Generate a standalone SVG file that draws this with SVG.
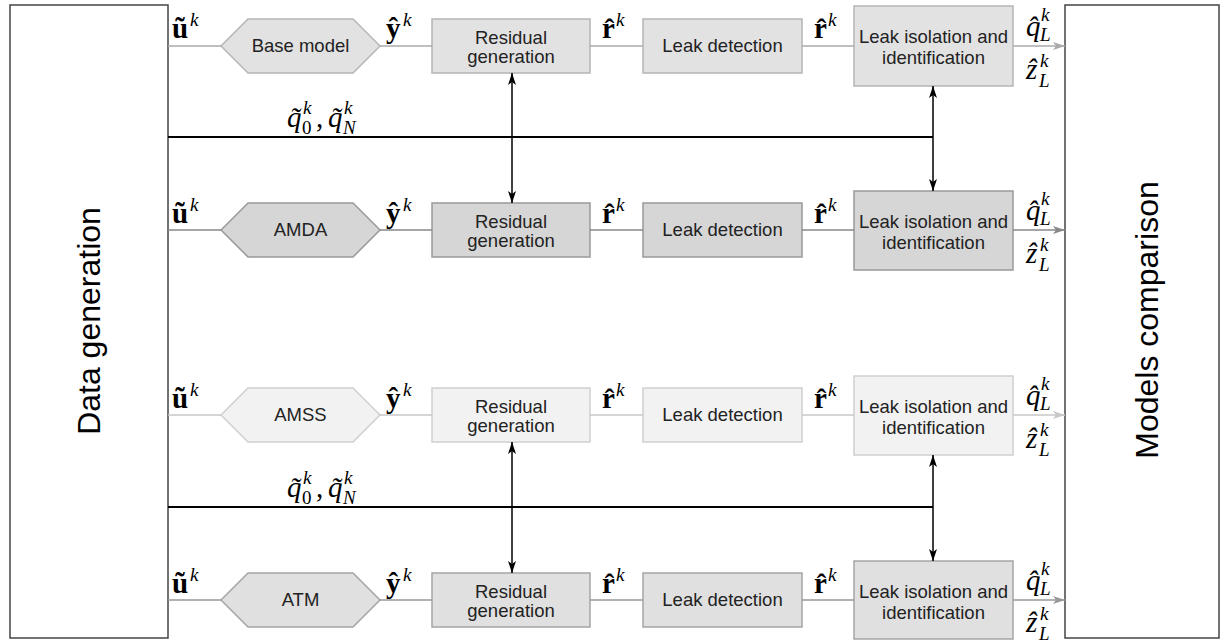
<svg xmlns="http://www.w3.org/2000/svg" width="1224" height="642" viewBox="0 0 1224 642">
<style>
.side{fill:#fff;stroke:#444;stroke-width:1.5}
.big{font-family:"Liberation Sans",Arial,sans-serif;font-size:32px;fill:#000;text-anchor:middle}
.lbl{font-family:"Liberation Sans",Arial,sans-serif;font-size:18.5px;fill:#222;text-anchor:middle}
.m{font-family:"Liberation Serif","Times New Roman",serif;font-size:29px;fill:#000}
.mb{font-weight:bold}
.mi{font-style:italic}
.s{font-family:"Liberation Serif","Times New Roman",serif;font-size:19px;fill:#000}
.c1{fill:#e2e2e2;stroke:#b5b5b5;stroke-width:1.5}
.c2{fill:#d6d6d6;stroke:#999;stroke-width:1.5}
.c3{fill:#f2f2f2;stroke:#cfcfcf;stroke-width:1.5}
.c4{fill:#e0e0e0;stroke:#a5a5a5;stroke-width:1.5}
.a1{stroke:#aaa;stroke-width:1.6;fill:none;marker-end:url(#h1)}
.a2{stroke:#888;stroke-width:1.6;fill:none;marker-end:url(#h2)}
.a3{stroke:#c8c8c8;stroke-width:1.6;fill:none;marker-end:url(#h3)}
.a4{stroke:#999;stroke-width:1.6;fill:none;marker-end:url(#h4)}
.bus{stroke:#000;stroke-width:2;fill:none}
.bi{stroke:#000;stroke-width:1.5;fill:none;marker-start:url(#hb);marker-end:url(#hb)}
</style>
<defs>
<marker id="h1" viewBox="0 0 12 8" refX="12" refY="4" markerWidth="12" markerHeight="8" markerUnits="userSpaceOnUse" orient="auto-start-reverse"><path d="M0,0 L12,4 L0,8 L3,4 z" fill="#aaa"/></marker>
<marker id="h2" viewBox="0 0 12 8" refX="12" refY="4" markerWidth="12" markerHeight="8" markerUnits="userSpaceOnUse" orient="auto-start-reverse"><path d="M0,0 L12,4 L0,8 L3,4 z" fill="#888"/></marker>
<marker id="h3" viewBox="0 0 12 8" refX="12" refY="4" markerWidth="12" markerHeight="8" markerUnits="userSpaceOnUse" orient="auto-start-reverse"><path d="M0,0 L12,4 L0,8 L3,4 z" fill="#c8c8c8"/></marker>
<marker id="h4" viewBox="0 0 12 8" refX="12" refY="4" markerWidth="12" markerHeight="8" markerUnits="userSpaceOnUse" orient="auto-start-reverse"><path d="M0,0 L12,4 L0,8 L3,4 z" fill="#999"/></marker>
<marker id="hb" viewBox="0 0 12 8" refX="12" refY="4" markerWidth="12" markerHeight="8" markerUnits="userSpaceOnUse" orient="auto-start-reverse"><path d="M0,0 L12,4 L0,8 L3,4 z" fill="#000"/></marker>
</defs>

<g id="data-generation">
<rect class="side" x="10" y="5" width="158" height="633"/>
<text class="big" transform="translate(100,321) rotate(-90)">Data generation</text>
</g>
<g id="models-comparison">
<rect class="side" x="1065" y="5" width="154" height="633"/>
<text class="big" transform="translate(1158,320) rotate(-90)">Models comparison</text>
</g>

<!-- Row 1 -->
<g id="base-model"><polygon class="c1" points="221,46 248,19 353,19 380,46 353,73 248,73"/><text class="lbl" x="300.5" y="52">Base model</text></g>
<g id="res1"><rect class="c1" x="432" y="19" width="158" height="54"/><text class="lbl" x="511" y="44">Residual</text><text class="lbl" x="511" y="63">generation</text></g>
<g id="det1"><rect class="c1" x="643" y="19" width="159" height="54"/><text class="lbl" x="722.5" y="52">Leak detection</text></g>
<g id="iso1"><rect class="c1" x="854" y="6" width="159" height="80"/><text class="lbl" x="933.5" y="43">Leak isolation and</text><text class="lbl" x="933.5" y="64">identification</text></g>

<!-- Row 2 -->
<g id="amda"><polygon class="c2" points="221,230 248,203 353,203 380,230 353,257 248,257"/><text class="lbl" x="300.5" y="236">AMDA</text></g>
<g id="res2"><rect class="c2" x="432" y="203" width="158" height="54"/><text class="lbl" x="511" y="228">Residual</text><text class="lbl" x="511" y="247">generation</text></g>
<g id="det2"><rect class="c2" x="643" y="203" width="159" height="54"/><text class="lbl" x="722.5" y="236">Leak detection</text></g>
<g id="iso2"><rect class="c2" x="854" y="191" width="159" height="79"/><text class="lbl" x="933.5" y="228">Leak isolation and</text><text class="lbl" x="933.5" y="249">identification</text></g>

<!-- Row 3 -->
<g id="amss"><polygon class="c3" points="221,415 248,388 353,388 380,415 353,442 248,442"/><text class="lbl" x="300.5" y="421">AMSS</text></g>
<g id="res3"><rect class="c3" x="432" y="388" width="158" height="54"/><text class="lbl" x="511" y="413">Residual</text><text class="lbl" x="511" y="432">generation</text></g>
<g id="det3"><rect class="c3" x="643" y="388" width="159" height="54"/><text class="lbl" x="722.5" y="421">Leak detection</text></g>
<g id="iso3"><rect class="c3" x="854" y="376" width="159" height="79"/><text class="lbl" x="933.5" y="413">Leak isolation and</text><text class="lbl" x="933.5" y="434">identification</text></g>

<!-- Row 4 -->
<g id="atm"><polygon class="c4" points="221,600 248,573 353,573 380,600 353,627 248,627"/><text class="lbl" x="300.5" y="606">ATM</text></g>
<g id="res4"><rect class="c4" x="432" y="573" width="158" height="54"/><text class="lbl" x="511" y="598">Residual</text><text class="lbl" x="511" y="617">generation</text></g>
<g id="det4"><rect class="c4" x="643" y="573" width="159" height="54"/><text class="lbl" x="722.5" y="606">Leak detection</text></g>
<g id="iso4"><rect class="c4" x="854" y="561" width="159" height="78"/><text class="lbl" x="933.5" y="598">Leak isolation and</text><text class="lbl" x="933.5" y="619">identification</text></g>

<g id="connectors">
<path class="a1" d="M168,46 H221 M380,46 H432 M590,46 H643 M802,46 H854 M1013,46 H1065"/>
<path class="a2" d="M168,230 H221 M380,230 H432 M590,230 H643 M802,230 H854 M1013,230 H1065"/>
<path class="a3" d="M168,415 H221 M380,415 H432 M590,415 H643 M802,415 H854 M1013,415 H1065"/>
<path class="a4" d="M168,600 H221 M380,600 H432 M590,600 H643 M802,600 H854 M1013,600 H1065"/>
<path class="bus" d="M168,137 H933"/>
<path class="bus" d="M168,507 H933"/>
<path class="bi" d="M512,73 V203"/>
<path class="bi" d="M933,86 V191"/>
<path class="bi" d="M512,442 V573"/>
<path class="bi" d="M933,455 V561"/>
</g>

<g id="labels">
<g id="lab1">
<text class="m mb" x="172" y="38">ũ</text><text class="s mi" x="190" y="26">k</text>
<text class="m mb" x="386" y="38">ŷ</text><text class="s mi" x="403" y="26">k</text>
<text class="m mb" x="602" y="38">r̂</text><text class="s mi" x="616" y="26">k</text>
<text class="m mb" x="814" y="38">r̂</text><text class="s mi" x="828" y="26">k</text>
<text class="m mi" x="1026" y="36">q̂</text><text class="s mi" x="1041" y="21">k</text><text class="s mi" x="1040" y="41">L</text>
<text class="m mi" x="1026" y="79">ẑ</text><text class="s mi" x="1040" y="67">k</text><text class="s mi" x="1039" y="87">L</text>
</g>
<g id="lab2">
<text class="m mb" x="172" y="223">ũ</text><text class="s mi" x="190" y="211">k</text>
<text class="m mb" x="386" y="223">ŷ</text><text class="s mi" x="403" y="211">k</text>
<text class="m mb" x="602" y="223">r̂</text><text class="s mi" x="616" y="211">k</text>
<text class="m mb" x="814" y="223">r̂</text><text class="s mi" x="828" y="211">k</text>
<text class="m mi" x="1026" y="220">q̂</text><text class="s mi" x="1041" y="205">k</text><text class="s mi" x="1040" y="225">L</text>
<text class="m mi" x="1026" y="263">ẑ</text><text class="s mi" x="1040" y="251">k</text><text class="s mi" x="1039" y="271">L</text>
</g>
<g id="lab3">
<text class="m mb" x="172" y="408">ũ</text><text class="s mi" x="190" y="396">k</text>
<text class="m mb" x="386" y="408">ŷ</text><text class="s mi" x="403" y="396">k</text>
<text class="m mb" x="602" y="408">r̂</text><text class="s mi" x="616" y="396">k</text>
<text class="m mb" x="814" y="408">r̂</text><text class="s mi" x="828" y="396">k</text>
<text class="m mi" x="1026" y="405">q̂</text><text class="s mi" x="1041" y="390">k</text><text class="s mi" x="1040" y="410">L</text>
<text class="m mi" x="1026" y="448">ẑ</text><text class="s mi" x="1040" y="436">k</text><text class="s mi" x="1039" y="456">L</text>
</g>
<g id="lab4">
<text class="m mb" x="172" y="593">ũ</text><text class="s mi" x="190" y="581">k</text>
<text class="m mb" x="386" y="593">ŷ</text><text class="s mi" x="403" y="581">k</text>
<text class="m mb" x="602" y="593">r̂</text><text class="s mi" x="616" y="581">k</text>
<text class="m mb" x="814" y="593">r̂</text><text class="s mi" x="828" y="581">k</text>
<text class="m mi" x="1026" y="590">q̂</text><text class="s mi" x="1041" y="575">k</text><text class="s mi" x="1040" y="595">L</text>
<text class="m mi" x="1026" y="632">ẑ</text><text class="s mi" x="1040" y="620">k</text><text class="s mi" x="1039" y="640">L</text>
</g>
<g id="labq1">
<text class="m mi" x="287" y="127">q̃</text><text class="s mi" x="303" y="114">k</text><text class="s" x="302" y="134">0</text>
<text class="m" x="316" y="127">,</text>
<text class="m mi" x="328" y="127">q̃</text><text class="s mi" x="344" y="114">k</text><text class="s mi" x="343" y="134">N</text>
</g>
<g id="labq2">
<text class="m mi" x="287" y="497">q̃</text><text class="s mi" x="303" y="484">k</text><text class="s" x="302" y="504">0</text>
<text class="m" x="316" y="497">,</text>
<text class="m mi" x="328" y="497">q̃</text><text class="s mi" x="344" y="484">k</text><text class="s mi" x="343" y="504">N</text>
</g>
</g>
</svg>
